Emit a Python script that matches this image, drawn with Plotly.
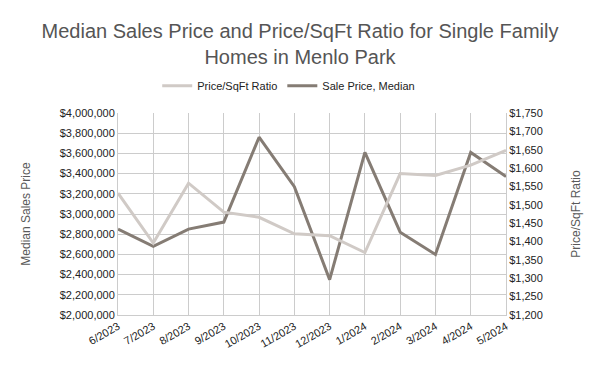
import plotly.graph_objects as go

months = ["6/2023", "7/2023", "8/2023", "9/2023", "10/2023", "11/2023", "12/2023",
          "1/2024", "2/2024", "3/2024", "4/2024", "5/2024"]
sale_price_median = [2850000, 2680000, 2850000, 2920000, 3760000, 3270000, 2350000,
                     3610000, 2820000, 2600000, 3610000, 3370000]
price_per_sqft = [1532, 1396, 1559, 1480, 1466, 1421, 1416, 1370, 1585, 1580, 1608, 1648]

left_ticks = list(range(2000000, 4000001, 200000))
right_ticks = list(range(1200, 1751, 50))

LIGHT = "#d0cac6"
DARK = "#857c74"
GRID = "#cccccc"
TXT = "#222222"
FONT = "Arial"

fig = go.Figure()
fig.add_trace(go.Scatter(x=months, y=price_per_sqft, name="Price/SqFt Ratio",
                         mode="lines", line=dict(color=LIGHT, width=3), yaxis="y2"))
fig.add_trace(go.Scatter(x=months, y=sale_price_median, name="Sale Price, Median",
                         mode="lines", line=dict(color=DARK, width=3), yaxis="y"))

fig.update_layout(
    width=600, height=371,
    margin=dict(l=118, r=94, t=113, b=56),
    paper_bgcolor="white", plot_bgcolor="white",
    font=dict(family=FONT, size=11, color=TXT),
    title=dict(text="Median Sales Price and Price/SqFt Ratio for Single Family<br>Homes in Menlo Park",
               x=0.5, xanchor="center", y=0.898, yanchor="top",
               font=dict(family=FONT, size=20, color="#555555")),
    showlegend=True,
    legend=dict(orientation="h", x=0.44, xanchor="center", y=1.135, yanchor="middle",
                font=dict(size=11, color=TXT), itemwidth=30, traceorder="normal"),
    xaxis=dict(type="category", range=[0, 11], showgrid=True, gridcolor=GRID,
               showline=True, linecolor=GRID, tickangle=-30, ticks="", automargin=False,
               tickfont=dict(size=11, color=TXT)),
    yaxis=dict(range=[2000000, 4000000], tickvals=left_ticks,
               ticktext=["$" + format(v, ",") for v in left_ticks],
               showgrid=True, gridcolor=GRID, showline=True, linecolor=GRID,
               zeroline=False, ticks="", automargin=False,
               title=dict(text="Median Sales Price", font=dict(size=12, color="#595959"), standoff=26)),
    yaxis2=dict(range=[1200, 1750], tickvals=right_ticks,
                ticktext=["$" + format(v, ",") for v in right_ticks],
                overlaying="y", side="right", showgrid=False, showline=True,
                linecolor=GRID, zeroline=False, ticks="", automargin=False,
                title=dict(text="Price/SqFt Ratio", font=dict(size=12, color="#595959"), standoff=29)),
)

fig.write_html("out.html", config={"displayModeBar": False},
               post_script="document.body.style.margin='0px';")
